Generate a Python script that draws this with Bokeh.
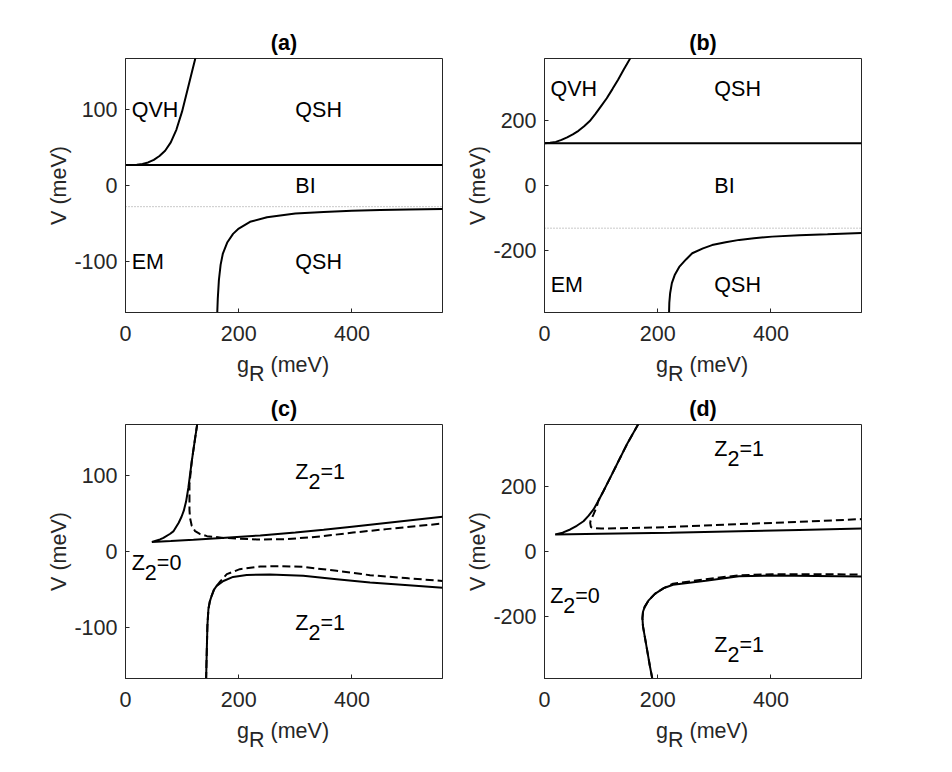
from bokeh.plotting import figure
from bokeh.models import Range1d, FixedTicker, Label
from bokeh.layouts import row, column
from bokeh.embed import file_html
from bokeh.resources import INLINE

FONT = "Liberation Sans"
FS = "21.5px"
TXT = "#262626"
LIFT = 9  # pixel correction so that the label anchor sits on the text baseline

# ---------------- data ----------------
x_ticks = [0, 200, 400]
x_tick_labels = ["0", "200", "400"]
y_ticks_small = [-100, 0, 100]
y_tick_labels_small = ["-100", "0", "100"]
y_ticks_big = [-200, 0, 200]
y_tick_labels_big = ["-200", "0", "200"]

# panel (a)
a_qvh_x = [0, 10, 20, 30, 40, 50, 60, 70, 80, 90, 100, 110, 118, 124]
a_qvh_y = [27, 27.1, 27.6, 28.6, 30.5, 34, 39, 46, 57, 74, 98, 128, 152, 170]
a_flat_x = [0, 560]
a_flat_y = [27, 27]
a_dot_x = [0, 560]
a_dot_y = [-28, -28]
a_low_x = [162, 163, 165, 168, 172, 180, 190, 200, 220, 250, 300, 350, 400, 450, 500, 560]
a_low_y = [-170, -150, -125, -105, -90, -75, -64, -57, -48, -42, -37, -35, -33.5, -32.5, -31.8, -31]

# panel (b)
b_qvh_x = [0, 10, 20, 30, 40, 50, 60, 70, 80, 90, 100, 110, 120, 130, 140, 152]
b_qvh_y = [130, 131, 134, 140, 148, 157, 168, 182, 198, 220, 244, 268, 296, 325, 356, 392]
b_flat_x = [0, 560]
b_flat_y = [130, 130]
b_dot_x = [0, 560]
b_dot_y = [-131, -131]
b_low_x = [220, 220.5, 222, 225, 230, 238, 250, 261, 280, 296, 320, 344, 370, 402, 450, 500, 560]
b_low_y = [-392, -360, -330, -300, -275, -250, -227, -208, -193, -183, -174, -167, -162, -157, -153, -150, -146]

# panel (c)
c_up_x = [127, 123, 117, 111, 107, 103, 99, 94, 85, 79, 67, 61, 46.6, 80, 120, 170, 238, 300, 350, 400, 460, 560]
c_up_y = [170, 150, 119, 84, 66, 54, 46, 38, 27, 23.5, 18, 16, 12.7, 13.9, 15.5, 17.8, 21.3, 25, 28.7, 32.8, 37.8, 46]
c_upd_x = [127, 123, 117, 113, 113, 113, 114, 117, 123, 132, 144, 173, 232, 285, 344, 402, 461, 560]
c_upd_y = [170, 150, 119, 88.7, 70, 55, 44.5, 34, 26.9, 23, 20.3, 18, 15.9, 16.3, 19.9, 25, 29.6, 37]
c_low_x = [142.4, 143, 143.5, 144.7, 146.5, 149, 152, 156, 161, 173, 190, 214, 255, 314, 373, 432, 500, 560]
c_low_y = [-170, -150, -134, -98, -76, -66, -59, -51, -45.5, -39, -33.6, -31, -30.5, -32.2, -36.6, -41, -44.5, -48]
c_lowd_x = [142.4, 143, 143.5, 144.7, 146.5, 149, 152, 156, 161, 167, 179, 202, 238, 273, 314, 373, 432, 500, 560]
c_lowd_y = [-170, -150, -134, -98, -76, -66, -59, -51, -45.5, -40, -30, -23.4, -19.9, -19.4, -20.3, -25.6, -31.3, -35.5, -39]

# panel (d)
d_up_x = [166, 145.6, 128, 116, 104, 95, 86.6, 78, 68.9, 57, 45.4, 32, 18.9, 100, 222, 343.5, 450, 560]
d_up_y = [392, 329, 268, 226, 185, 155, 129, 110, 93, 79, 67.7, 58, 52.3, 54.5, 57.2, 62, 66, 70.5]
d_upd_x = [166, 145.6, 128, 116, 104, 95, 92.6, 86.6, 81.5, 80.7, 82, 88, 100, 150, 216, 343.5, 450, 560]
d_upd_y = [392, 329, 268, 226, 185, 155, 139, 114, 95, 88, 75, 71.5, 70.5, 72, 74.8, 84, 91, 99.5]
d_low_x = [190.6, 186, 181, 177, 174, 173, 174, 177, 184, 195, 210, 227, 285, 343.5, 402, 480, 560]
d_low_y = [-392, -350, -300, -260, -230, -205, -185, -170, -150, -130, -113, -102, -90, -76, -74, -75, -77]
d_lowd_x = [190.6, 186, 181, 177, 174, 173, 174, 177, 184, 195, 210, 227, 285, 343.5, 402, 480, 560]
d_lowd_y = [-392, -350, -300, -260, -230, -205, -185, -170, -150, -130, -113, -99, -85, -73, -70, -70, -70.5]

titles = ["(a)", "(b)", "(c)", "(d)"]
x_label_parts = ["g", "R", "(meV)"]
y_label = "V (meV)"

# ---------------- helpers ----------------
def make_fig(ymax, yticks, ylabels, left, right, top, bottom):
    p = figure(frame_width=317, frame_height=254,
               x_range=Range1d(0, 560), y_range=Range1d(-ymax, ymax),
               output_backend="svg", toolbar_location=None,
               min_border_left=left, min_border_right=right,
               min_border_top=top, min_border_bottom=bottom)
    p.background_fill_color = "white"
    p.border_fill_color = "white"
    p.xgrid.visible = False
    p.ygrid.visible = False
    p.outline_line_color = TXT
    p.outline_line_width = 1
    p.xaxis.ticker = FixedTicker(ticks=x_ticks)
    p.xaxis.major_label_overrides = dict(zip(x_ticks, x_tick_labels))
    p.yaxis.ticker = FixedTicker(ticks=yticks)
    p.yaxis.major_label_overrides = dict(zip(yticks, ylabels))
    for ax in (p.xaxis, p.yaxis):
        ax.axis_line_color = TXT
        ax.major_tick_line_color = TXT
        ax.major_tick_in = 4
        ax.major_tick_out = 0
        ax.minor_tick_line_color = None
        ax.major_label_text_font = FONT
        ax.major_label_text_font_size = FS
        ax.major_label_text_color = TXT
    p.xaxis.major_label_standoff = 13
    p.yaxis.major_label_standoff = 8
    p.yaxis.axis_label = y_label
    p.yaxis.axis_label_text_font = FONT
    p.yaxis.axis_label_text_font_size = FS
    p.yaxis.axis_label_text_font_style = "normal"
    p.yaxis.axis_label_text_color = TXT
    p.yaxis.axis_label_standoff = 0
    return p


def lab(p, x, y, text, xo=0, yo=0, align="left", color="black", style="normal", place=None):
    L = Label(x=x, y=y, x_offset=xo, y_offset=yo + LIFT, text=text,
              text_font=FONT, text_font_size=FS, text_color=color,
              text_align=align, text_baseline="alphabetic",
              text_font_style=style)
    if place is None:
        p.add_layout(L)
    else:
        p.add_layout(L, place)


def decorate(p, ymax, title, side):
    # labels outside the frame live in side panels (not clipped);
    # their positions are still given in data units + pixel offsets
    lab(p, 280, ymax, title, yo=7, align="center", style="bold", place="above")
    lab(p, 197, -ymax, x_label_parts[0], yo=-61, color=TXT, place=side)
    lab(p, 197, -ymax, x_label_parts[1], xo=11.96, yo=-70, color=TXT, place=side)
    lab(p, 197, -ymax, x_label_parts[2], xo=33.5, yo=-61, color=TXT, place="below")


def zlab(p, x, y, tail):
    lab(p, x, y, "Z")
    lab(p, x, y, "2", xo=13.14, yo=-9.5)
    lab(p, x, y, tail, xo=25.1)


SOLID = dict(line_color="black", line_width=2)
DASH = dict(line_color="black", line_width=2, line_dash="8 4")

# ---------------- panel (a) ----------------
pa = make_fig(168, y_ticks_small, y_tick_labels_small, 125, 2, 58, 75)
pa.line(a_dot_x, a_dot_y, line_color="#777777", line_width=0.8, line_dash="1 2")
pa.line(a_flat_x, a_flat_y, **SOLID)
pa.line(a_qvh_x, a_qvh_y, **SOLID)
pa.line(a_low_x, a_low_y, **SOLID)
lab(pa, 11, 88, "QVH")
lab(pa, 300, 88, "QSH")
lab(pa, 300, -13, "BI")
lab(pa, 11, -112.5, "EM")
lab(pa, 300, -112.5, "QSH")
decorate(pa, 168, titles[0], "left")

# ---------------- panel (b) ----------------
pb = make_fig(390, y_ticks_big, y_tick_labels_big, 100, 20, 58, 75)
pb.line(b_dot_x, b_dot_y, line_color="#777777", line_width=0.8, line_dash="1 2")
pb.line(b_flat_x, b_flat_y, **SOLID)
pb.line(b_qvh_x, b_qvh_y, **SOLID)
pb.line(b_low_x, b_low_y, **SOLID)
lab(pb, 10.5, 269, "QVH")
lab(pb, 300, 269, "QSH")
lab(pb, 300, -30, "BI")
lab(pb, 11, -332, "EM")
lab(pb, 300, -332, "QSH")
decorate(pb, 390, titles[1], "right")

# ---------------- panel (c) ----------------
pc = make_fig(168, y_ticks_small, y_tick_labels_small, 125, 2, 37, 75)
pc.line(c_up_x, c_up_y, **SOLID)
pc.line(c_low_x, c_low_y, **SOLID)
pc.line(c_upd_x, c_upd_y, **DASH)
pc.line(c_lowd_x, c_lowd_y, **DASH)
zlab(pc, 300, 92.7, "=1")
zlab(pc, 11, -26.5, "=0")
zlab(pc, 300, -107, "=1")
decorate(pc, 168, titles[2], "left")

# ---------------- panel (d) ----------------
pd_ = make_fig(390, y_ticks_big, y_tick_labels_big, 100, 20, 37, 75)
pd_.line(d_up_x, d_up_y, **SOLID)
pd_.line(d_low_x, d_low_y, **SOLID)
pd_.line(d_upd_x, d_upd_y, **DASH)
pd_.line(d_lowd_x, d_lowd_y, **DASH)
zlab(pd_, 300, 287, "=1")
zlab(pd_, 10, -164, "=0")
zlab(pd_, 300, -315, "=1")
decorate(pd_, 390, titles[3], "right")

layout = column(row(pa, pb), row(pc, pd_))
open("out.html", "w").write(file_html(layout, INLINE))
